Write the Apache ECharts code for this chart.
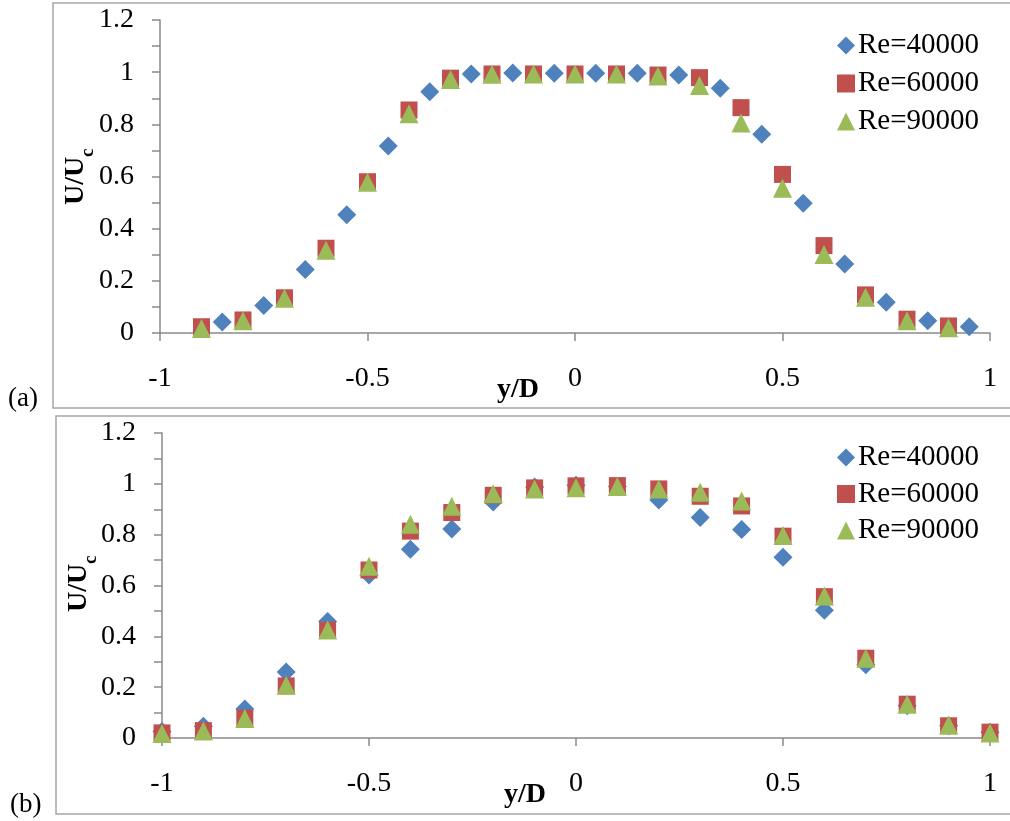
<!DOCTYPE html>
<html>
<head>
<meta charset="utf-8">
<title>U/Uc profiles</title>
<script src="https://cdn.jsdelivr.net/npm/echarts@6/dist/echarts.min.js"></script>
<style>
  html, body { margin: 0; padding: 0; background: #fff; }
  #chart { width: 1010px; height: 821px; }
</style>
</head>
<body>
<div id="chart"></div>
<script>
// ---- panel (a) ----
const xA40 = [-0.85, -0.75, -0.65, -0.55, -0.45, -0.35, -0.25, -0.15, -0.05, 0.05, 0.15, 0.25, 0.35, 0.45, 0.55, 0.65, 0.75, 0.85, 0.95];
const aRe40 = [0.042, 0.105, 0.243, 0.453, 0.717, 0.925, 0.993, 0.997, 0.996, 0.996, 0.996, 0.989, 0.938, 0.762, 0.497, 0.265, 0.118, 0.047, 0.024];
const xA = [-0.9, -0.8, -0.7, -0.6, -0.5, -0.4, -0.3, -0.2, -0.1, 0, 0.1, 0.2, 0.3, 0.4, 0.5, 0.6, 0.7, 0.8, 0.9];
const aRe60 = [0.024, 0.05, 0.135, 0.325, 0.58, 0.855, 0.977, 0.993, 0.993, 0.993, 0.993, 0.989, 0.979, 0.864, 0.608, 0.335, 0.146, 0.053, 0.027];
const aRe90 = [0.017, 0.047, 0.133, 0.317, 0.578, 0.841, 0.972, 0.992, 0.993, 0.993, 0.993, 0.985, 0.949, 0.805, 0.555, 0.301, 0.137, 0.047, 0.02];

// ---- panel (b) ----
const xB = [-1, -0.9, -0.8, -0.7, -0.6, -0.5, -0.4, -0.3, -0.2, -0.1, 0, 0.1, 0.2, 0.3, 0.4, 0.5, 0.6, 0.7, 0.8, 0.9, 1];
const bRe40 = [0.026, 0.046, 0.114, 0.26, 0.458, 0.641, 0.743, 0.822, 0.929, 0.988, 0.994, 0.99, 0.936, 0.868, 0.82, 0.711, 0.503, 0.288, 0.127, 0.048, 0.023];
const bRe60 = [0.02, 0.029, 0.078, 0.205, 0.424, 0.661, 0.814, 0.887, 0.955, 0.984, 0.992, 0.993, 0.98, 0.951, 0.913, 0.794, 0.556, 0.314, 0.133, 0.048, 0.023];
const bRe90 = [0.018, 0.028, 0.077, 0.208, 0.425, 0.676, 0.841, 0.912, 0.961, 0.98, 0.985, 0.99, 0.98, 0.967, 0.932, 0.797, 0.559, 0.314, 0.133, 0.051, 0.02];

const seriesNames = ['Re=40000', 'Re=60000', 'Re=90000'];
const panelTags = ['(a)', '(b)'];
const yTitleMain = 'U/U';
const yTitleSub = 'c';
const xTitle = 'y/D';

const SERIF = '"Liberation Serif", "Times New Roman", serif';
const AXIS_GREY = '#8a8a8a';
const COLORS = ['#4F81BD', '#C0504D', '#9BBB59'];
const SYMBOLS = ['diamond', 'rect', 'triangle'];
const SIZES = [[19, 19], [17, 17], [19, 19]];

function pairs(xs, ys) { return xs.map((x, i) => [x, ys[i]]); }

function xAxisFor(gridIndex, shift) {
  return {
    type: 'value', gridIndex, min: -1, max: 1, interval: 0.5,
    name: xTitle, nameLocation: 'middle', nameGap: 43, nameMoveOverlap: false,
    nameTextStyle: { fontFamily: SERIF, fontWeight: 'bold', fontSize: 28, color: '#000', padding: [0, shift, 0, 0] },
    axisLine: { show: true, onZero: false, lineStyle: { color: AXIS_GREY, width: 1.5 } },
    axisTick: { show: true, inside: false, length: 8, lineStyle: { color: AXIS_GREY, width: 1.5 } },
    axisLabel: { fontFamily: SERIF, fontSize: 28, color: '#000', margin: 32 },
    splitLine: { show: false }
  };
}

function yAxisFor(gridIndex) {
  return {
    type: 'value', gridIndex, min: 0, max: 1.2, interval: 0.2,
    axisLine: { show: true, onZero: false, lineStyle: { color: AXIS_GREY, width: 1.5 } },
    axisTick: { show: true, inside: false, length: 8, lineStyle: { color: AXIS_GREY, width: 1.5 } },
    minorTick: { show: true, splitNumber: 2, length: 8, lineStyle: { color: AXIS_GREY, width: 1.5 } },
    axisLabel: { fontFamily: SERIF, fontSize: 28, color: '#000', margin: 26 },
    splitLine: { show: false }, minorSplitLine: { show: false }
  };
}

// rotated y-axis title with a subscript, reading bottom to top
function yTitle(cx, cy) {
  return {
    type: 'group', x: cx, y: cy, rotation: Math.PI / 2, silent: true,
    children: [
      { type: 'text', x: -29, y: 0, style: { text: yTitleMain, font: 'bold 28px ' + SERIF, fill: '#000', align: 'left', verticalAlign: 'middle' } },
      { type: 'text', x: 19, y: 12, style: { text: yTitleSub, font: 'bold 19px ' + SERIF, fill: '#000', align: 'left', verticalAlign: 'middle' } }
    ]
  };
}

function scatterFor(idx, gridIndex, data) {
  return {
    type: 'scatter', name: seriesNames[idx],
    xAxisIndex: gridIndex, yAxisIndex: gridIndex,
    symbol: SYMBOLS[idx], symbolSize: SIZES[idx],
    itemStyle: { color: COLORS[idx], opacity: 1 },
    clip: false, data
  };
}

function legendFor(top, gap) {
  return {
    orient: 'vertical', left: 832, top, itemGap: gap,
    itemWidth: 18, itemHeight: 18,
    textStyle: { fontFamily: SERIF, fontSize: 29, lineHeight: 28, color: '#000', padding: [0, 0, 0, -2] },
    data: seriesNames.map((n, i) => ({ name: n, icon: SYMBOLS[i] })),
    selectedMode: false
  };
}

const chart = echarts.init(document.getElementById('chart'), null, { renderer: 'canvas' });
chart.setOption({
  backgroundColor: '#fff',
  animation: false,
  graphic: [
    { type: 'rect', shape: { x: 53, y: 3, width: 975, height: 405 }, style: { fill: 'none', stroke: '#a6a6a6', lineWidth: 1.5 }, silent: true },
    { type: 'rect', shape: { x: 56, y: 416, width: 975, height: 398 }, style: { fill: 'none', stroke: '#a6a6a6', lineWidth: 1.5 }, silent: true },
    { type: 'text', left: 8, top: 385, style: { text: panelTags[0], font: '27px ' + SERIF, fill: '#000' } },
    { type: 'text', left: 10, top: 791, style: { text: panelTags[1], font: '27px ' + SERIF, fill: '#000' } },
    yTitle(76, 176),
    yTitle(79, 583)
  ],
  grid: [
    { left: 160, top: 20, width: 830, height: 313 },
    { left: 162, top: 433, width: 828, height: 305 }
  ],
  xAxis: [xAxisFor(0, 114), xAxisFor(1, 102)],
  yAxis: [yAxisFor(0), yAxisFor(1)],
  legend: [legendFor(26, 9), legendFor(438, 7.5)],
  series: [
    scatterFor(0, 0, pairs(xA40, aRe40)),
    scatterFor(1, 0, pairs(xA, aRe60)),
    scatterFor(2, 0, pairs(xA, aRe90)),
    scatterFor(0, 1, pairs(xB, bRe40)),
    scatterFor(1, 1, pairs(xB, bRe60)),
    scatterFor(2, 1, pairs(xB, bRe90))
  ]
});
</script>
</body>
</html>
